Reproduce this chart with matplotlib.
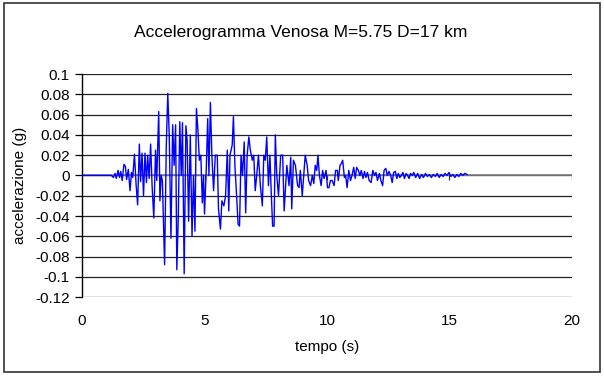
import matplotlib
matplotlib.use("Agg")
import matplotlib.pyplot as plt
from matplotlib.patches import Rectangle

plt.rcParams['font.family'] = ['Liberation Sans', 'DejaVu Sans']

# Venosa accelerogram: time (s) and acceleration (g)
tempo = [
    0.00, 1.20, 1.28, 1.35, 1.40, 1.47, 1.53, 1.58, 1.64, 1.71, 1.77, 1.82, 1.89, 1.96,
    2.02, 2.07, 2.14, 2.21, 2.27, 2.34, 2.39, 2.45, 2.51, 2.57, 2.63, 2.68, 2.74, 2.80,
    2.86, 2.93, 3.00, 3.05, 3.13, 3.18, 3.23, 3.28, 3.37, 3.44, 3.50, 3.56, 3.63, 3.70,
    3.76, 3.82, 3.87, 3.93, 3.99, 4.05, 4.10, 4.17, 4.24, 4.29, 4.35, 4.42, 4.49, 4.55,
    4.61, 4.67, 4.73, 4.79, 4.85, 4.91, 4.96, 5.00, 5.07, 5.13, 5.18, 5.24, 5.30, 5.37,
    5.44, 5.52, 5.57, 5.65, 5.71, 5.79, 5.86, 5.93, 5.99, 6.04, 6.13, 6.18, 6.24, 6.31,
    6.37, 6.43, 6.49, 6.55, 6.62, 6.68, 6.74, 6.81, 6.87, 6.95, 7.01, 7.07, 7.13, 7.20,
    7.28, 7.36, 7.42, 7.48, 7.54, 7.61, 7.67, 7.72, 7.78, 7.84, 7.89, 7.95, 8.02, 8.11,
    8.19, 8.25, 8.31, 8.36, 8.45, 8.52, 8.56, 8.63, 8.71, 8.80, 8.86, 8.91, 8.99, 9.05,
    9.11, 9.19, 9.25, 9.33, 9.40, 9.46, 9.52, 9.58, 9.63, 9.69, 9.76, 9.82, 9.88, 9.96,
    10.02, 10.08, 10.14, 10.21, 10.29, 10.35, 10.42, 10.46, 10.53, 10.59, 10.64, 10.71,
    10.76, 10.82, 10.89, 10.96, 11.02, 11.09, 11.15, 11.21, 11.28, 11.34, 11.40, 11.47,
    11.53, 11.59, 11.65, 11.72, 11.80, 11.87, 11.94, 12.00, 12.06, 12.14, 12.20, 12.27,
    12.33, 12.40, 12.46, 12.53, 12.60, 12.66, 12.72, 12.79, 12.85, 12.91, 12.97, 13.04,
    13.10, 13.16, 13.23, 13.29, 13.35, 13.41, 13.48, 13.54, 13.62, 13.70, 13.78, 13.86,
    13.94, 14.02, 14.10, 14.18, 14.26, 14.34, 14.42, 14.50, 14.58, 14.66, 14.74, 14.82,
    14.90, 14.98, 15.06, 15.14, 15.22, 15.30, 15.38, 15.46, 15.54, 15.62, 15.72,
]
accelerazione = [
    0.000, 0.000, -0.002, 0.002, -0.003, 0.005, -0.002, 0.004, -0.005, 0.011, 0.009, -0.004, 0.006, -0.015,
    0.003, -0.002, 0.021, -0.010, -0.029, 0.031, -0.006, 0.022, -0.020, 0.022, -0.007, 0.020, -0.003, 0.031,
    -0.010, -0.042, 0.025, -0.005, 0.063, -0.025, 0.000, -0.005, -0.088, 0.030, 0.081, 0.040, -0.062, 0.050,
    0.010, 0.050, -0.093, -0.040, 0.053, 0.000, 0.052, -0.097, 0.049, 0.035, -0.045, 0.040, -0.060, 0.000,
    -0.055, 0.066, 0.045, 0.015, 0.020, -0.027, 0.000, -0.038, 0.005, 0.056, 0.000, 0.072, 0.020, -0.015,
    0.020, 0.020, -0.033, -0.053, -0.025, -0.030, -0.020, 0.025, -0.035, 0.020, 0.030, 0.058, 0.010, -0.020,
    -0.048, -0.050, 0.020, 0.000, 0.033, -0.037, 0.020, 0.038, 0.025, 0.015, 0.020, -0.015, 0.000, 0.020,
    -0.010, -0.030, 0.020, 0.015, 0.038, -0.010, 0.020, -0.015, -0.050, -0.050, 0.040, 0.000, -0.020, 0.020,
    0.020, -0.035, -0.010, 0.010, -0.010, 0.018, -0.033, 0.015, 0.010, -0.010, -0.012, 0.005, -0.020, 0.000,
    0.020, 0.010, -0.005, -0.010, 0.000, -0.008, 0.010, 0.005, 0.020, 0.000, -0.010, 0.005, -0.003, 0.005,
    -0.012, -0.012, -0.005, -0.005, -0.010, 0.005, 0.005, -0.005, 0.010, 0.012, 0.015, -0.002,
    0.000, -0.012, 0.005, -0.005, 0.000, 0.008, -0.003, 0.008, 0.005, 0.000, 0.005, -0.003,
    0.004, -0.002, 0.003, -0.005, -0.007, 0.005, 0.000, 0.003, -0.005, 0.002, -0.005, -0.010,
    0.005, 0.007, 0.000, 0.004, 0.000, -0.007, 0.003, 0.004, -0.003, 0.002, -0.002, 0.000,
    0.003, -0.003, 0.002, 0.000, -0.003, 0.002, 0.000, 0.003, -0.002, 0.002, -0.003, 0.001,
    -0.002, 0.002, -0.001, 0.001, -0.002, 0.001, -0.001, 0.002, -0.002, 0.001, -0.001, 0.002,
    0.000, 0.003, -0.001, 0.001, -0.002, 0.001, -0.001, 0.002, 0.000, 0.002, 0.001,
]

x_ticks = [0, 5, 10, 15, 20]
y_ticks = [0.1, 0.08, 0.06, 0.04, 0.02, 0, -0.02, -0.04, -0.06, -0.08, -0.1, -0.12]
y_tick_labels = ['0.1', '0.08', '0.06', '0.04', '0.02', '0', '-0.02', '-0.04', '-0.06', '-0.08', '-0.1', '-0.12']

fig = plt.figure(figsize=(6.04, 3.78), dpi=100)
ax = fig.add_axes([0.1358, 0.214, 0.8112, 0.590])

# horizontal gridlines
for yv in y_ticks:
    ax.axhline(yv, color='#222222', lw=0.9, zorder=1)
# category axis crossing at zero
ax.axhline(0, color='#808080', lw=1.2, zorder=1.5)
ax.vlines(x_ticks[1:], -0.004, 0, color='#333333', lw=0.9, zorder=1.5)

ax.plot(tempo, accelerazione, color='#0000ff', lw=1.0, zorder=3)

ax.set_xlim(0, 20)
ax.set_ylim(-0.12, 0.1)
ax.set_xticks(x_ticks)
ax.set_yticks(y_ticks)
ax.set_yticklabels(y_tick_labels)

for side in ['top', 'right', 'bottom']:
    ax.spines[side].set_visible(False)
ax.spines['left'].set_color('black')
ax.spines['left'].set_linewidth(1.0)

ax.tick_params(axis='y', direction='out', length=5, width=0.9, pad=4, labelsize=11)
ax.tick_params(axis='x', length=0, pad=12, labelsize=11)

ax.set_xlabel('tempo (s)', fontsize=11, labelpad=9)
ax.set_ylabel('accelerazione (g)', fontsize=11, labelpad=6)

fig.text(0.497, 0.915, 'Accelerogramma Venosa M=5.75 D=17 km', ha='center', va='center', fontsize=12.5)

# chart border
fig.patches.append(Rectangle((0.007, 0.016), 0.986, 0.976, transform=fig.transFigure,
                             fill=False, edgecolor='#333333', lw=1.2))

fig.savefig('out.png', dpi=100)
